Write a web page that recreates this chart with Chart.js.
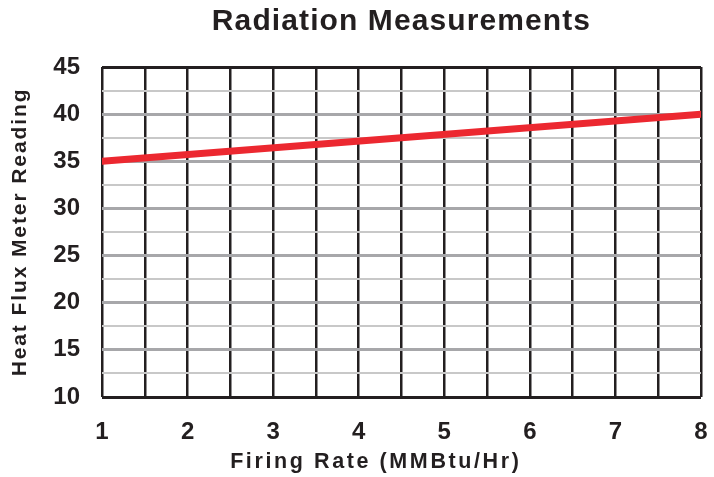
<!DOCTYPE html>
<html>
<head>
<meta charset="utf-8">
<script src="https://cdn.jsdelivr.net/npm/chart.js@4"></script>
<style>
  html, body { margin: 0; padding: 0; background: #fff; }
  #wrap { width: 714px; height: 477px; }
</style>
</head>
<body>
<div id="wrap"><canvas id="radiationChart"></canvas></div>
<script>
// Radiation measurements - heat flux vs firing rate
const firingRates = [1, 8];
const heatFlux = [35, 40];
const xTickValues = [1, 2, 3, 4, 5, 6, 7, 8];
const yTickValues = [10, 15, 20, 25, 30, 35, 40, 45];

const FONT = "'Liberation Sans', Arial, sans-serif";
const INK = '#231f20';

// the original artwork uses a tracked-out bold grotesque, so space the letters per text size
const trackingBySize = { '30px': 1.1, '24px': 0, '21.5px': 2.6, '21px': 1.9 };

function isMajor(list, v) {
    return list.some(t => Math.abs(t - v) < 1e-6);
}

const trackingPlugin = {
    id: 'tracking',
    beforeInit(chart) {
        const c = chart.ctx;
        const fill = c.fillText.bind(c);
        const measure = c.measureText.bind(c);
        const apply = () => {
            const m = /([\d.]+px)/.exec(c.font);
            c.letterSpacing = ((m && trackingBySize[m[1]]) || 0) + 'px';
        };
        c.fillText = function(text, x, y, w) { apply(); return w === undefined ? fill(text, x, y) : fill(text, x, y, w); };
        c.measureText = function(text) { apply(); return measure(text); };
    }
};

const ctx = document.getElementById('radiationChart').getContext('2d');
new Chart(ctx, {
    type: 'scatter',
    data: {
        datasets: [{
            label: 'Heat Flux',
            data: firingRates.map((x, i) => ({ x: x, y: heatFlux[i] })),
            showLine: true,
            borderColor: '#ec2830',
            borderWidth: 7,
            borderCapStyle: 'round',
            pointRadius: 0,
            fill: false
        }]
    },
    plugins: [trackingPlugin],
    options: {
        responsive: true,
        maintainAspectRatio: false,
        animation: false,
        layout: { padding: { left: 8, right: 5, top: 4, bottom: 2 } },
        plugins: {
            legend: { display: false },
            tooltip: { enabled: false },
            title: {
                display: true,
                text: 'Radiation Measurements',
                fullSize: false,
                color: INK,
                font: { family: FONT, size: 30, weight: 'bold' },
                padding: { top: 0, bottom: 27 }
            }
        },
        scales: {
            x: {
                type: 'linear',
                min: 1,
                max: 8,
                border: { display: false },
                grid: { color: INK, lineWidth: 2.5, drawTicks: false },
                ticks: {
                    stepSize: 0.5,
                    padding: 21,
                    autoSkip: false,
                    maxRotation: 0,
                    color: INK,
                    font: { family: FONT, size: 24, weight: 'bold' },
                    callback: function(value) { return isMajor(xTickValues, value) ? value : ''; }
                },
                afterFit: function(scale) {
                    scale.paddingRight = 13;
                    scale.height = 78;
                },
                title: {
                    display: true,
                    // trailing no-break spaces nudge the centred title left, as in the original
                    text: 'Firing Rate (MMBtu/Hr)\u00a0\u00a0\u00a0\u00a0\u00a0\u00a0',
                    color: INK,
                    font: { family: FONT, size: 21.5, weight: 'bold' },
                    padding: { top: 2, bottom: 0 }
                }
            },
            y: {
                min: 10,
                max: 45,
                border: { display: false },
                grid: {
                    z: -1,
                    drawTicks: false,
                    color: function(c) {
                        const v = c.tick.value;
                        if (v === 10 || v === 45) return INK;
                        return isMajor(yTickValues, v) ? '#a7a7aa' : '#c8c8c8';
                    },
                    lineWidth: function(c) {
                        const v = c.tick.value;
                        if (v === 10 || v === 45) return 3;
                        return isMajor(yTickValues, v) ? 3 : 2;
                    }
                },
                ticks: {
                    stepSize: 2.5,
                    padding: 22,
                    autoSkip: false,
                    color: INK,
                    font: { family: FONT, size: 24, weight: 'bold' },
                    callback: function(value) { return isMajor(yTickValues, value) ? value : ''; }
                },
                afterFit: function(scale) { scale.width = 94; },
                title: {
                    display: true,
                    text: 'Heat Flux Meter Reading',
                    color: INK,
                    font: { family: FONT, size: 21, weight: 'bold' },
                    padding: { top: 0, bottom: 20 }
                }
            }
        }
    }
});
</script>
</body>
</html>
